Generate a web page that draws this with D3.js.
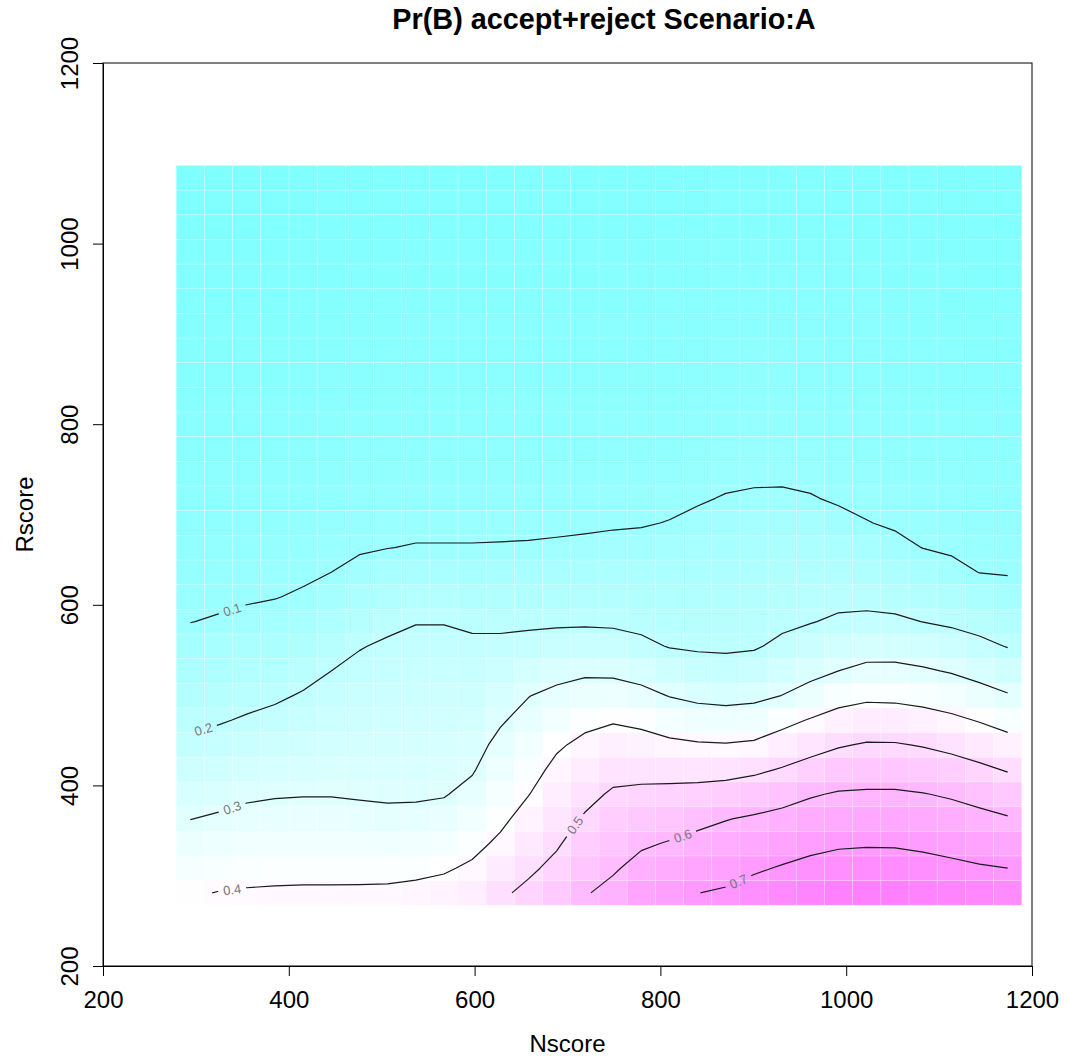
<!DOCTYPE html>
<html><head><meta charset="utf-8">
<script src="https://cdn.jsdelivr.net/npm/d3@7"></script>
<style>
body{margin:0;background:#fff}
text{font-family:"Liberation Sans",Arial,Helvetica,sans-serif}
</style>
</head><body>
<svg id="chart" width="1068" height="1056"></svg>
<script>
// grid (cell centres)
const nscore = [294,324.3,354.7,385,415.4,445.7,476,506.4,536.7,567,597.4,627.7,658,688.4,718.8,749.1,779.4,809.8,840.1,870.5,900.8,931.1,961.5,991.8,1022.1,1052.5,1082.8,1113.1,1143.5,1173.8];
const rscore = [281,308.3,335.6,362.9,390.2,417.6,444.9,472.2,499.5,526.8,554.1,581.4,608.7,636,663.3,690.7,718,745.3,772.6,799.9,827.2,854.5,881.8,909.1,936.4,963.7,991,1018.3,1045.6,1072.9];
// Pr(B): one array per Nscore column, values from low to high Rscore
const pB = [
[0.393,0.362,0.330,0.299,0.270,0.241,0.212,0.187,0.165,0.143,0.121,0.099,0.085,0.074,0.065,0.058,0.052,0.047,0.044,0.039,0.035,0.032,0.028,0.024,0.021,0.019,0.016,0.014,0.012,0.010],
[0.402,0.371,0.340,0.308,0.279,0.250,0.222,0.195,0.173,0.150,0.128,0.105,0.089,0.076,0.067,0.060,0.054,0.049,0.044,0.040,0.037,0.032,0.029,0.026,0.022,0.019,0.017,0.015,0.013,0.012],
[0.406,0.377,0.348,0.318,0.290,0.262,0.234,0.206,0.182,0.159,0.136,0.113,0.094,0.081,0.070,0.061,0.055,0.050,0.045,0.042,0.039,0.034,0.031,0.027,0.023,0.020,0.018,0.015,0.013,0.012],
[0.408,0.380,0.351,0.323,0.295,0.269,0.242,0.216,0.191,0.167,0.144,0.120,0.098,0.085,0.073,0.064,0.058,0.052,0.047,0.042,0.039,0.035,0.031,0.028,0.024,0.021,0.018,0.016,0.014,0.012],
[0.409,0.381,0.353,0.325,0.297,0.274,0.251,0.228,0.205,0.181,0.156,0.132,0.107,0.090,0.077,0.067,0.060,0.054,0.049,0.044,0.040,0.037,0.034,0.029,0.026,0.022,0.020,0.017,0.015,0.013],
[0.409,0.381,0.353,0.324,0.297,0.278,0.258,0.239,0.220,0.200,0.175,0.150,0.125,0.100,0.086,0.074,0.065,0.058,0.052,0.047,0.044,0.040,0.035,0.032,0.028,0.024,0.022,0.019,0.016,0.014],
[0.410,0.380,0.350,0.319,0.294,0.278,0.262,0.246,0.230,0.214,0.197,0.170,0.142,0.115,0.094,0.081,0.070,0.061,0.055,0.050,0.045,0.042,0.039,0.034,0.031,0.027,0.023,0.020,0.018,0.015],
[0.412,0.379,0.347,0.314,0.292,0.278,0.264,0.250,0.236,0.222,0.208,0.187,0.157,0.127,0.099,0.085,0.074,0.065,0.058,0.052,0.047,0.044,0.039,0.035,0.032,0.028,0.024,0.021,0.019,0.016],
[0.418,0.383,0.349,0.315,0.293,0.279,0.266,0.253,0.239,0.226,0.213,0.198,0.167,0.135,0.103,0.087,0.075,0.066,0.059,0.052,0.047,0.044,0.040,0.037,0.032,0.028,0.026,0.022,0.019,0.016],
[0.426,0.392,0.358,0.324,0.296,0.282,0.268,0.254,0.241,0.227,0.213,0.198,0.167,0.135,0.103,0.087,0.075,0.066,0.059,0.052,0.047,0.044,0.040,0.037,0.032,0.028,0.026,0.022,0.019,0.016],
[0.442,0.411,0.380,0.350,0.319,0.294,0.277,0.260,0.244,0.227,0.211,0.190,0.161,0.132,0.103,0.087,0.075,0.066,0.059,0.052,0.047,0.044,0.040,0.037,0.032,0.028,0.026,0.022,0.019,0.016],
[0.488,0.450,0.413,0.385,0.362,0.340,0.317,0.293,0.267,0.240,0.214,0.187,0.159,0.132,0.104,0.087,0.075,0.066,0.059,0.054,0.049,0.044,0.040,0.037,0.032,0.028,0.026,0.022,0.019,0.016],
[0.517,0.487,0.457,0.427,0.398,0.373,0.348,0.323,0.298,0.260,0.222,0.188,0.161,0.133,0.105,0.088,0.076,0.066,0.059,0.054,0.049,0.044,0.040,0.037,0.034,0.028,0.026,0.022,0.019,0.017],
[0.548,0.519,0.492,0.467,0.443,0.418,0.390,0.354,0.318,0.276,0.229,0.190,0.162,0.135,0.108,0.089,0.077,0.067,0.060,0.054,0.049,0.044,0.040,0.037,0.034,0.029,0.026,0.022,0.020,0.017],
[0.594,0.565,0.537,0.508,0.478,0.448,0.418,0.381,0.335,0.287,0.234,0.191,0.164,0.137,0.110,0.092,0.079,0.069,0.060,0.055,0.049,0.045,0.040,0.037,0.034,0.029,0.026,0.023,0.020,0.017],
[0.622,0.591,0.564,0.537,0.510,0.474,0.435,0.394,0.339,0.284,0.230,0.189,0.164,0.140,0.115,0.094,0.081,0.070,0.063,0.056,0.050,0.045,0.042,0.039,0.034,0.031,0.027,0.023,0.020,0.018],
[0.659,0.625,0.590,0.553,0.517,0.475,0.431,0.382,0.324,0.268,0.214,0.184,0.162,0.140,0.117,0.096,0.084,0.073,0.064,0.056,0.052,0.047,0.042,0.039,0.035,0.031,0.027,0.024,0.021,0.018],
[0.675,0.640,0.605,0.564,0.521,0.472,0.417,0.358,0.297,0.245,0.197,0.178,0.159,0.140,0.121,0.102,0.087,0.075,0.066,0.059,0.054,0.047,0.044,0.040,0.037,0.032,0.028,0.026,0.022,0.019],
[0.699,0.661,0.623,0.579,0.527,0.470,0.408,0.342,0.281,0.228,0.192,0.176,0.160,0.144,0.127,0.111,0.095,0.082,0.071,0.063,0.056,0.050,0.045,0.042,0.039,0.035,0.031,0.027,0.023,0.021],
[0.709,0.671,0.635,0.597,0.536,0.472,0.405,0.337,0.275,0.222,0.191,0.177,0.162,0.147,0.132,0.117,0.103,0.088,0.076,0.066,0.059,0.054,0.049,0.044,0.040,0.037,0.032,0.029,0.026,0.022],
[0.729,0.690,0.650,0.610,0.551,0.484,0.413,0.343,0.281,0.230,0.194,0.179,0.165,0.150,0.135,0.121,0.106,0.092,0.079,0.069,0.061,0.055,0.050,0.045,0.042,0.037,0.034,0.029,0.026,0.023],
[0.745,0.706,0.665,0.623,0.571,0.506,0.442,0.375,0.301,0.257,0.213,0.188,0.172,0.156,0.140,0.123,0.107,0.092,0.079,0.069,0.061,0.055,0.050,0.045,0.042,0.037,0.034,0.029,0.026,0.023],
[0.760,0.721,0.680,0.638,0.593,0.531,0.469,0.406,0.332,0.276,0.235,0.197,0.179,0.160,0.141,0.122,0.103,0.088,0.076,0.066,0.059,0.054,0.049,0.044,0.040,0.037,0.032,0.029,0.026,0.022],
[0.769,0.730,0.691,0.649,0.607,0.552,0.493,0.432,0.368,0.300,0.255,0.210,0.182,0.160,0.137,0.114,0.094,0.081,0.070,0.063,0.056,0.050,0.045,0.042,0.039,0.034,0.031,0.027,0.023,0.021],
[0.772,0.733,0.694,0.652,0.610,0.560,0.507,0.446,0.383,0.319,0.265,0.215,0.181,0.155,0.128,0.102,0.087,0.075,0.065,0.059,0.052,0.047,0.044,0.040,0.037,0.032,0.028,0.024,0.022,0.019],
[0.771,0.732,0.693,0.652,0.610,0.560,0.506,0.444,0.381,0.320,0.264,0.211,0.176,0.146,0.115,0.093,0.080,0.070,0.061,0.055,0.050,0.045,0.042,0.037,0.034,0.029,0.027,0.023,0.020,0.017],
[0.765,0.726,0.686,0.644,0.603,0.550,0.495,0.433,0.371,0.309,0.254,0.199,0.165,0.131,0.099,0.085,0.074,0.065,0.058,0.052,0.047,0.044,0.039,0.035,0.032,0.028,0.024,0.021,0.019,0.016],
[0.756,0.717,0.676,0.635,0.591,0.536,0.479,0.417,0.355,0.294,0.238,0.188,0.152,0.116,0.092,0.079,0.069,0.061,0.055,0.049,0.045,0.040,0.037,0.034,0.029,0.026,0.023,0.020,0.017,0.015],
[0.746,0.707,0.665,0.622,0.573,0.517,0.457,0.395,0.331,0.272,0.218,0.175,0.137,0.099,0.086,0.074,0.065,0.058,0.052,0.047,0.044,0.039,0.035,0.032,0.028,0.024,0.021,0.019,0.016,0.014],
[0.739,0.700,0.654,0.607,0.551,0.494,0.432,0.369,0.306,0.250,0.197,0.162,0.126,0.096,0.082,0.071,0.063,0.056,0.050,0.045,0.042,0.039,0.035,0.031,0.027,0.023,0.021,0.018,0.016,0.013]
];
const levels = [0.1,0.2,0.3,0.4,0.5,0.6,0.7];
const labelAtN = [339,308,339,339,708,824,884];
const xTicks = [200,400,600,800,1000,1200];
const yTicks = [200,400,600,800,1000,1200];
const title = "Pr(B) accept+reject Scenario:A";
const xLabel = "Nscore", yLabel = "Rscore";

const svg = d3.select("#chart");
const x = d3.scaleLinear().domain([200,1200]).range([103,1032]);
const y = d3.scaleLinear().domain([200,1200]).range([966,63]);
const nx = nscore.length, ny = rscore.length;

// cm.colors style scale
const all = pB.flat();
const zmin = d3.min(all), zmax = d3.max(all);
const tz = d3.scaleLinear().domain([zmin,zmax]).range([0,1]).clamp(true);
function cm(v){
  const t = tz(v);
  if (t < 0.5){ const s = 0.5 - t; return d3.rgb(255*(1-s),255,255); }
  const s = t - 0.5; return d3.rgb(255,255*(1-s),255);
}
function edges(a){
  return a.map((v,i)=>{
    const lo = i===0 ? v-(a[1]-a[0])/2 : (a[i-1]+v)/2;
    const hi = i===a.length-1 ? v+(v-a[i-1])/2 : (v+a[i+1])/2;
    return [lo,hi];
  });
}
const ex = edges(nscore), ey = edges(rscore);
const cells = [];
pB.forEach((col,i)=>col.forEach((v,j)=>cells.push({i,j,v})));
svg.append("g").selectAll("rect").data(cells).join("rect")
  .attr("x",d=>x(ex[d.i][0])).attr("width",d=>x(ex[d.i][1])-x(ex[d.i][0]))
  .attr("y",d=>y(ey[d.j][1])).attr("height",d=>y(ey[d.j][0])-y(ey[d.j][1]))
  .attr("fill",d=>cm(d.v))
  .attr("stroke","rgba(255,255,255,0.28)").attr("stroke-width",0.7);

// contours
const values = new Array(nx*ny);
for (let j=0;j<ny;j++) for (let i=0;i<nx;i++) values[j*nx+i] = pB[i][j];
const gx = d3.scaleLinear().domain([0.5,nx-0.5]).range([nscore[0],nscore[nx-1]]);
const gy = d3.scaleLinear().domain([0.5,ny-0.5]).range([rscore[0],rscore[ny-1]]);
const cs = d3.contours().size([nx,ny]).thresholds(levels)(values);
function openLines(ring){
  const inside = p => p[0]>0 && p[0]<nx && p[1]>0 && p[1]<ny;
  const pts = ring.slice(0,-1);
  const n = pts.length;
  const start = pts.findIndex(p=>!inside(p));
  if (start < 0) return [ring];
  const out = []; let cur = [];
  for (let k=1;k<=n;k++){
    const p = pts[(start+k)%n];
    if (inside(p)) cur.push(p); else { if (cur.length>1) out.push(cur); cur=[]; }
  }
  if (cur.length>1) out.push(cur);
  return out;
}
const lineGen = d3.line();
const defs = svg.append("defs");
const mask = defs.append("mask").attr("id","lblmask").attr("maskUnits","userSpaceOnUse")
  .attr("x",0).attr("y",0).attr("width",1068).attr("height",1056);
mask.append("rect").attr("width",1068).attr("height",1056).attr("fill","white");
const gLines = svg.append("g").attr("mask","url(#lblmask)");
const gLabels = svg.append("g");
cs.forEach((c,k)=>{
  let lines = [];
  c.coordinates.forEach(poly=>poly.forEach(ring=>{ lines = lines.concat(openLines(ring)); }));
  const scr = lines.map(l=>l.map(p=>[x(gx(p[0])), y(gy(p[1]))]));
  scr.forEach(l=>gLines.append("path").attr("d",lineGen(l)).attr("fill","none")
    .attr("stroke","#1a1a1a").attr("stroke-width",1.2).attr("stroke-linejoin","round"));
  // label
  const tx = x(labelAtN[k]);
  let best = null;
  scr.forEach(l=>{
    for (let m=0;m<l.length-1;m++){
      const a=l[m], b=l[m+1];
      if ((a[0]-tx)*(b[0]-tx) <= 0 && a[0]!==b[0]){
        const f=(tx-a[0])/(b[0]-a[0]);
        const py=a[1]+f*(b[1]-a[1]);
        if (!best) best={px:tx,py,ang:Math.atan2(b[1]-a[1],b[0]-a[0])*180/Math.PI};
      }
    }
  });
  if (best){
    let ang = best.ang; if (ang>90) ang-=180; if (ang<-90) ang+=180;
    const lbl = String(levels[k]);
    const t = gLabels.append("text").attr("transform",`translate(${best.px},${best.py}) rotate(${ang})`)
      .attr("text-anchor","middle").attr("dy","0.36em").attr("font-size",13)
      .attr("fill","#777").text(lbl);
    const w = t.node().getComputedTextLength()+10;
    mask.append("rect").attr("x",-w/2).attr("y",-7).attr("width",w).attr("height",14)
      .attr("fill","black").attr("transform",`translate(${best.px},${best.py}) rotate(${ang})`);
  }
});

// box
svg.append("rect").attr("x",x(200)).attr("y",y(1200)).attr("width",x(1200)-x(200))
  .attr("height",y(200)-y(1200)).attr("fill","none").attr("stroke","#000").attr("stroke-width",1);

// axes
const ax = svg.append("g").attr("transform",`translate(0,${y(200)})`)
  .call(d3.axisBottom(x).tickValues(xTicks).tickFormat(d3.format("d")).tickSize(10).tickSizeOuter(0).tickPadding(15));
ax.select(".domain").attr("stroke","#000");
ax.selectAll(".tick line").attr("stroke","#000");
ax.selectAll("text").attr("font-size",24).attr("fill","#000").attr("font-family","'Liberation Sans',Arial,sans-serif");
const ay = svg.append("g").attr("transform",`translate(${x(200)},0)`)
  .call(d3.axisLeft(y).tickValues(yTicks).tickFormat(d3.format("d")).tickSize(10).tickSizeOuter(0));
ay.select(".domain").attr("stroke","#000");
ay.selectAll(".tick line").attr("stroke","#000");
ay.selectAll("text").attr("font-size",24).attr("fill","#000").attr("font-family","'Liberation Sans',Arial,sans-serif")
  .attr("x",null).attr("dy",null).attr("text-anchor","middle").attr("transform","translate(-25,0) rotate(-90)");

// titles
svg.append("text").attr("x",604).attr("y",29).attr("text-anchor","middle")
  .attr("font-size",28.8).attr("font-weight","bold").attr("fill","#000").text(title);
svg.append("text").attr("x",(x(200)+x(1200))/2).attr("y",1052).attr("text-anchor","middle")
  .attr("font-size",24).attr("fill","#000").text(xLabel);
svg.append("text").attr("transform",`translate(33,${(y(200)+y(1200))/2}) rotate(-90)`).attr("text-anchor","middle")
  .attr("font-size",24).attr("fill","#000").text(yLabel);
</script>
</body></html>
